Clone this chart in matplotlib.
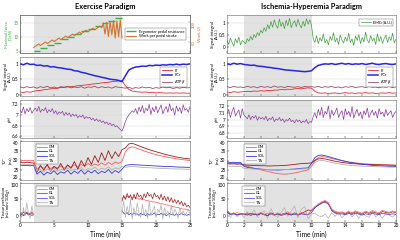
"""Exercise vs ischemia-hyperemia paradigm: multi-panel MR time courses."""
import matplotlib

matplotlib.use("Agg")
import matplotlib.pyplot as plt  # noqa: E402
import numpy as np  # noqa: E402

# --------------------------------------------------------------------------- #
# Data
# --------------------------------------------------------------------------- #
EX_STEP = 0.5        # min between exercise samples
EX_FINE = 0.25       # min, denser exercise traces (pH, work, perfusion)
IH_STEP = 0.4        # min between ischemia samples
IH_FINE = 0.2        # min, denser ischemia traces (EMG, pH)

# exercise: ergometer stages (boundaries, min) and pedal resistance (DaN)
RESIST_T = [2, 3, 4, 5, 6, 7, 8, 9, 10, 11, 12, 13, 14, 15]
RESIST_DAN = [5.0, 6.2, 7.1, 8.0, 9.2, 10.1, 11.0, 12.1, 13.0, 13.9, 15.0,
              15.9, 16.8]
WORK_T0 = 2.0
WORK_J = [36, 39, 42, 45, 41, 44, 47, 50, 46, 49, 52, 55, 51, 54, 57, 60,
          56, 59, 62, 65, 61, 64, 67, 70, 66, 69, 72, 75, 71, 74, 77, 80,
          76, 79, 82, 85, 81, 84, 87, 90, 86, 98, 70, 100, 64, 102, 68, 104,
          60, 103, 63, 106, 60]

# exercise 31P signal integrals (A.U.)
EX_PCR = [1.00, 0.97, 1.02, 0.98, 0.99, 0.95, 0.96, 0.93, 0.94, 0.90,
          0.91, 0.88, 0.87, 0.85, 0.83, 0.82, 0.78, 0.77, 0.73, 0.71,
          0.68, 0.65, 0.62, 0.60, 0.57, 0.55, 0.52, 0.50, 0.49, 0.47,
          0.43, 0.62, 0.80, 0.86, 0.90, 0.91, 0.93, 0.92, 0.95, 0.94,
          0.96, 0.95, 0.97, 0.96, 0.98, 0.97, 0.99, 0.97, 0.99, 0.98, 1.00]
EX_PI = [0.10, 0.08, 0.11, 0.09, 0.12, 0.14, 0.15, 0.17, 0.18, 0.20,
         0.21, 0.22, 0.24, 0.25, 0.26, 0.27, 0.28, 0.30, 0.31, 0.32,
         0.33, 0.35, 0.36, 0.37, 0.39, 0.40, 0.41, 0.43, 0.44, 0.45,
         0.46, 0.30, 0.18, 0.13, 0.11, 0.10, 0.09, 0.10, 0.08, 0.09,
         0.07, 0.08, 0.07, 0.06, 0.07, 0.06, 0.07, 0.06, 0.07, 0.06, 0.06]
EX_ATP = [0.26, 0.23, 0.27, 0.24, 0.26, 0.22, 0.27, 0.24, 0.28, 0.23,
          0.26, 0.22, 0.27, 0.25, 0.28, 0.23, 0.26, 0.24, 0.27, 0.22,
          0.26, 0.25, 0.28, 0.23, 0.27, 0.24, 0.26, 0.22, 0.27, 0.25,
          0.24, 0.22, 0.25, 0.21, 0.24, 0.22, 0.26, 0.23, 0.25, 0.21,
          0.24, 0.22, 0.26, 0.23, 0.25, 0.21, 0.24, 0.22, 0.25, 0.23, 0.24]
EX_PH = [7.10, 7.04, 7.15, 7.02, 7.12, 7.06, 7.14, 7.03, 7.09,
         7.13, 7.07, 7.16, 7.05, 7.11, 7.08, 7.14, 7.04, 7.10, 7.06, 7.12, 7.03,
         7.08, 7.01, 7.06, 7.03, 7.07, 6.99, 7.05, 7.00, 7.04, 6.97,
         7.02, 6.98, 7.01, 6.95, 6.99, 6.96, 7.00, 6.93, 6.97, 6.94,
         6.96, 6.91, 6.94, 6.89, 6.93, 6.88, 6.91, 6.86, 6.89, 6.84,
         6.87, 6.82, 6.85, 6.80, 6.83, 6.78, 6.80, 6.76, 6.73, 6.70,
         6.78, 6.88, 6.95, 7.00, 7.04, 7.08, 7.05, 7.12, 7.02, 7.15,
         7.06, 7.18, 7.03, 7.13, 7.08, 7.20, 7.01, 7.14, 7.06, 7.17,
         7.04, 7.12, 7.19, 7.02, 7.10, 7.16, 7.05, 7.21, 7.08, 7.13,
         7.00, 7.17, 7.07, 7.14, 7.03, 7.19, 7.09, 7.12, 7.05, 7.16]

# exercise T2* (ms)
EX_T2_GM = [30.2, 30.0, 30.1, 29.9, 30.0,
            25.5, 27.0, 26.0, 27.5, 25.8, 26.8, 26.2, 27.2, 26.0, 27.5, 26.5,
            27.8, 26.8, 28.0, 27.0, 28.5, 27.2, 28.2, 27.5, 28.8, 27.6, 29.0,
            28.0, 29.2, 28.5, 29.5,
            34.5, 36.5, 37.0, 36.5, 35.8, 35.2, 34.6, 34.0, 33.5, 33.0,
            32.6, 32.2, 31.8, 31.5, 31.2, 30.9, 30.6, 30.4, 30.2, 30.0]
EX_T2_GL = [29.0, 28.8, 29.1, 28.9, 28.7,
            24.0, 27.5, 25.0, 28.0, 24.5, 27.0, 25.5, 28.5, 25.0, 27.8, 26.0,
            29.5, 25.5, 30.0, 27.0, 31.5, 28.0, 32.5, 29.0, 34.0, 30.0, 35.0,
            31.0, 34.5, 32.0, 35.5,
            36.5, 38.5, 38.8, 38.2, 37.5, 36.8, 36.2, 35.6, 35.0, 34.5,
            34.0, 33.5, 33.0, 32.6, 32.2, 31.8, 31.5, 31.2, 31.0, 30.8]
EX_T2_SOL = [27.6, 27.4, 27.5, 27.3, 27.5,
             23.0, 24.5, 22.5, 24.0, 23.2, 24.8, 22.8, 24.2, 23.5, 25.0, 23.0,
             24.6, 23.4, 25.2, 23.0, 24.8, 23.6, 25.0, 23.2, 24.5, 23.8, 25.4,
             23.4, 24.9, 23.8, 25.5,
             27.5, 27.8, 27.9, 27.8, 27.7, 27.6, 27.5, 27.4, 27.3, 27.2,
             27.1, 27.0, 26.9, 26.9, 26.8, 26.7, 26.6, 26.6, 26.5, 26.5]
EX_T2_TA = [28.0, 28.1, 27.9, 28.0, 28.2,
            24.5, 25.5, 24.0, 25.8, 24.8, 26.0, 24.5, 25.5, 25.0, 26.2, 24.8,
            25.6, 25.2, 26.4, 24.9, 25.8, 25.4, 26.6, 25.0, 26.0, 25.5, 26.8,
            25.2, 26.2, 25.6, 27.0,
            26.5, 26.8, 26.9, 26.8, 26.6, 26.5, 26.4, 26.3, 26.2, 26.1,
            26.0, 25.9, 25.9, 25.8, 25.7, 25.7, 25.6, 25.6, 25.5, 25.5]

# exercise perfusion (mL/min/100g): rest block and recovery block
EX_PERF_POST_T0 = 15.0
EX_PERF_PRE = {
    "GM": [5, 10, 2, 8, 12, 4, 9, 6, 3],
    "GL": [8, 3, 12, 6, 10, 2, 7, 11, 5],
    "SOL": [2, 6, 0, 4, 8, 3, 5, 1, 4],
    "TA": [10, -5, 25, 0, 40, 5, -8, 30, 2],
}
EX_PERF_POST = {
    "GM": [52, 58, 55, 60, 56, 58, 54, 57, 52, 55, 50, 53, 48, 50, 46, 47,
           44, 45, 42, 43, 40, 41, 38, 38, 36, 35, 33, 33, 31, 30, 28, 27,
           25, 25, 23, 22, 20, 21, 19, 18, 17],
    "GL": [45, 62, 50, 68, 55, 64, 48, 66, 52, 70, 58, 63, 50, 67, 55, 72,
           60, 65, 52, 70, 58, 62, 50, 66, 48, 60, 45, 58, 42, 55, 40, 50,
           38, 48, 35, 44, 30, 40, 28, 32, 25],
    "SOL": [15, 8, 5, 10, 3, 7, 2, 9, 4, 6, 1, 8, 3, 5, 0, 7, 2, 6, 4, 9, 1,
            5, 3, 8, 2, 6, 0, 4, 7, 3, 5, 1, 6, 2, 4, 8, 3, 5, 1, 4, 2],
    "TA": [10, 45, -5, 30, 5, 50, -10, 25, 0, 40, 8, -5, 35, 2, 20, -8, 45,
           0, 15, 30, -5, 20, 10, 35, -10, 25, 5, 15, -5, 30, 0, 20, 10, -8,
           25, 5, 15, 0, 10, 20, 5],
}

# ischemia-hyperemia
IH_EMG = [0.30, 0.12, 0.38, 0.20, 0.05, 0.35, 0.18, 0.42, 0.10, 0.28, 0.22,
          0.15, 0.35, 0.25, 0.45, 0.30, 0.52, 0.40, 0.60, 0.48, 0.70,
          0.58, 0.80, 0.65, 0.92, 0.75,
          1.05, 0.82, 1.12, 0.90, 0.78, 1.15, 0.85, 1.02, 0.76, 1.10,
          0.88, 1.18, 0.80, 0.98, 1.08, 0.84, 1.14, 0.92, 0.79, 1.06,
          0.86, 1.16, 0.94, 1.12, 0.90,
          0.35, 0.20, 0.48, 0.15, 0.40, 0.25, 0.55, 0.18, 0.32, 0.10,
          0.45, 0.28, 0.60, 0.22, 0.38, 0.12, 0.50, 0.30, 0.18, 0.42,
          0.25, 0.58, 0.20, 0.35, 0.08, 0.46, 0.28, 0.52, 0.15, 0.40,
          0.22, 0.62, 0.30, 0.18, 0.48, 0.26, 0.38, 0.12, 0.55, 0.24,
          0.44, 0.16, 0.36, 0.50, 0.20, 0.42, 0.28, 0.58, 0.18, 0.34]
IH_PCR = [1.00, 0.98, 1.02, 0.99, 1.01,
          0.98, 0.97, 0.95, 0.96, 0.93, 0.92, 0.91, 0.89, 0.88, 0.86,
          0.85, 0.83, 0.81, 0.80, 0.79, 0.78, 0.77, 0.76, 0.75, 0.76,
          0.78, 0.88, 0.95, 0.98, 1.00,
          0.99, 1.01, 0.98, 1.00, 1.02, 0.99, 1.01, 0.98, 1.00, 0.99,
          1.01, 0.98, 1.00, 1.02, 0.99, 0.98, 1.00, 1.01, 0.99, 0.98, 1.00]
IH_PI = [0.10, 0.08, 0.11, 0.09, 0.10,
         0.11, 0.12, 0.11, 0.13, 0.12, 0.14, 0.13, 0.15, 0.14, 0.16,
         0.16, 0.18, 0.17, 0.19, 0.18, 0.20, 0.21, 0.20, 0.22, 0.23,
         0.22,
         0.12, 0.07, 0.06, 0.07, 0.05, 0.06, 0.07, 0.05, 0.06, 0.08,
         0.06, 0.07, 0.05, 0.07, 0.06, 0.08, 0.06, 0.07, 0.05, 0.06,
         0.07, 0.06, 0.08, 0.06, 0.07]
IH_ATP = [0.27, 0.24, 0.28, 0.25, 0.26, 0.24, 0.28, 0.25, 0.27, 0.23,
          0.28, 0.25, 0.27, 0.24, 0.29, 0.25, 0.27, 0.24, 0.28, 0.26,
          0.25, 0.27, 0.24, 0.28, 0.26, 0.27,
          0.25, 0.28, 0.24, 0.27, 0.25, 0.28, 0.24, 0.26, 0.23, 0.27,
          0.25, 0.28, 0.24, 0.26, 0.27, 0.24, 0.28, 0.25, 0.26, 0.23,
          0.27, 0.25, 0.28, 0.24, 0.26]
IH_PH = [7.08, 7.15, 7.03, 7.12, 7.18, 7.05, 7.10, 7.14, 7.02, 7.16, 7.07,
         7.04, 7.01, 7.07, 7.00, 7.05, 7.02, 7.06, 6.99, 7.04, 7.01,
         7.03, 7.00, 7.05, 6.98, 7.02, 7.00, 7.04, 6.97, 7.01, 6.99,
         7.03, 6.98, 7.01, 6.96, 7.00, 6.98, 7.02, 6.97, 6.99, 6.95,
         7.00, 6.97, 6.99, 6.95, 6.98, 6.96, 7.00, 6.94, 6.97, 6.96,
         7.04, 7.10, 7.02, 7.15, 7.06, 7.18, 7.03, 7.12, 7.08, 7.20,
         7.01, 7.14, 7.06, 7.11, 7.17, 7.03, 7.09, 7.13, 7.00, 7.16,
         7.07, 7.12, 7.04, 7.19, 7.02, 7.10, 7.15, 7.05, 7.11, 7.01,
         7.13, 7.07, 7.17, 7.03, 7.09, 7.14, 7.06, 7.12, 7.02, 7.16,
         7.08, 7.11, 7.04, 7.15, 7.06, 7.10, 7.13, 7.03, 7.09, 7.12]
IH_T2 = {
    "GM": [28.6, 28.5, 28.6, 28.4, 28.5,
           27.5, 27.0, 26.5, 26.0, 25.6, 25.2, 24.8, 24.4, 24.0, 23.6,
           23.3, 23.1, 23.0, 23.1, 23.3, 23.6, 24.0, 24.4, 24.8, 25.2,
           27.0,
           30.0, 31.5, 32.0, 31.8, 31.4, 31.0, 30.6, 30.2, 29.8, 29.5,
           29.2, 29.0, 28.8, 28.6, 28.4, 28.3, 28.2, 28.1, 28.0, 27.9,
           27.8, 27.8, 27.7, 27.7, 27.6],
    "GL": [28.3, 28.2, 28.3, 28.1, 28.2,
           27.8, 27.6, 27.5, 27.4, 27.4, 27.3, 27.3, 27.2, 27.2, 27.3,
           27.3, 27.4, 27.5, 27.6, 27.8, 28.0, 28.2, 28.4, 28.5, 28.6,
           28.8,
           30.0, 30.8, 31.0, 30.8, 30.4, 30.0, 29.6, 29.3, 29.0, 28.8,
           28.6, 28.4, 28.3, 28.2, 28.1, 28.0, 27.9, 27.9, 27.8, 27.8,
           27.7, 27.7, 27.6, 27.6, 27.5],
    "SOL": [29.2, 29.0, 29.1, 28.9, 29.0,
            27.0, 26.5, 26.2, 26.0, 25.8, 25.6, 25.4, 25.3, 25.2, 25.2,
            25.1, 25.2, 25.3, 25.4, 25.5, 25.6, 25.8, 26.0, 26.1, 26.2,
            28.5,
            31.5, 32.6, 32.8, 32.5, 32.0, 31.5, 31.0, 30.5, 30.0, 29.6,
            29.2, 28.9, 28.6, 28.3, 28.1, 27.9, 27.7, 27.5, 27.4, 27.3,
            27.2, 27.1, 27.0, 27.0, 26.9],
    "TA": [27.2, 27.0, 27.1, 26.9, 27.0,
           26.0, 25.8, 25.7, 25.6, 25.6, 25.5, 25.5, 25.4, 25.4, 25.4,
           25.3, 25.3, 25.4, 25.4, 25.5, 25.5, 25.6, 25.6, 25.7, 25.8,
           27.0,
           29.0, 29.8, 30.0, 29.8, 29.4, 29.0, 28.6, 28.3, 28.0, 27.8,
           27.6, 27.4, 27.3, 27.2, 27.1, 27.0, 26.9, 26.9, 26.8, 26.8,
           26.7, 26.7, 26.6, 26.6, 26.5],
}
IH_PERF = {
    "GM": [15, 8, 5, 10, 6,
           4, 9, 2, 7, 5, 10, 3, 8, 6, 2, 9, 4, 7, 12, 5, 8, 3, 10, 6, 4,
           18,
           28, 36, 42, 47, 40, 20, 14, 10, 12, 8, 13, 9, 15, 11, 7, 14, 10,
           16, 12, 9, 17, 13, 11, 15, 12],
    "GL": [10, 5, 8, 3, 7,
           6, 2, 8, 4, 3, 7, 5, 1, 9, 4, 6, 3, 8, 5, 2, 9, 4, 7, 12, 18,
           15,
           25, 32, 38, 42, 35, 18, 10, 8, 9, 6, 10, 7, 12, 8, 5, 11, 7, 12,
           9, 6, 13, 10, 8, 12, 9],
    "SOL": [12, 4, 6, 2, 5,
            3, 6, 1, 5, 2, 7, 3, 0, 6, 2, 5, 1, 4, 7, 3, 5, 2, 6, 4, 3,
            10,
            24, 33, 40, 44, 38, 15, 8, 5, 6, 3, 7, 4, 8, 5, 2, 6, 4, 7, 5,
            3, 8, 5, 4, 6, 4],
    "TA": [20, -5, 10, -3, 8,
           -6, 12, 0, 18, -4, 8, 15, -8, 22, 2, -5, 10, 25, -2, 14, 30, -6,
           20, 28, -10,
           5,
           8, 0, -3, 5, -8, 10, -2, 12, -6, 4, 15, -4, 8, -8, 10, 0, -5, 12,
           -3, 6, -8, 9, 2, -4, 5],
}

EX_T2 = {"GM": EX_T2_GM, "GL": EX_T2_GL, "SOL": EX_T2_SOL, "TA": EX_T2_TA}

MUSCLE_COLORS = {"GM": "#ff5a5a", "GL": "#9e1c1c", "SOL": "#3535e0",
                 "TA": "#b0b0b0"}
C_PCR, C_PI, C_ATP = "#2626e6", "#e82a2a", "#8e2a55"
C_PH, C_EMG = "#8a3a9e", "#3e9e3e"
C_FORCE, C_WORK = "#3cb043", "#d2691e"
SHADE = "#e2e2e2"


def set_style():
    plt.rcParams.update({
        "font.family": ["Lato", "DejaVu Sans"],
        "font.size": 3.5,
        "axes.linewidth": 0.4,
        "axes.edgecolor": "#666666",
        "xtick.major.size": 1.2,
        "ytick.major.size": 1.2,
        "xtick.major.width": 0.3,
        "ytick.major.width": 0.3,
        "xtick.major.pad": 1.0,
        "ytick.major.pad": 1.0,
        "xtick.labelsize": 3.3,
        "ytick.labelsize": 3.3,
        "xtick.direction": "in",
        "ytick.direction": "in",
        "legend.fontsize": 2.8,
        "lines.linewidth": 0.5,
    })


def times(values, step, t0=0.0):
    return t0 + np.arange(len(values)) * step


def panel(fig, rect, xmax, shade_end, xticks, bottom=False):
    ax = fig.add_axes(rect)
    ax.axvspan(2, shade_end, color=SHADE, lw=0, zorder=0)
    ax.set_xlim(0, xmax)
    ax.set_xticks(xticks)
    ax.tick_params(labelbottom=bottom, top=False, right=False)
    ax.grid(axis="y", color="#d0d0d0", lw=0.3)
    ax.set_axisbelow(True)
    return ax


def small_legend(ax, **kw):
    leg = ax.legend(frameon=True, fancybox=False, edgecolor="#333333",
                    handlelength=2.6, borderpad=0.35, labelspacing=0.15,
                    handletextpad=0.6, **kw)
    leg.get_frame().set_linewidth(0.3)
    return leg


def ylab(ax, text, x=-0.045, **kw):
    ax.set_ylabel(text, fontsize=3.2, linespacing=0.95, **kw)
    ax.yaxis.set_label_coords(x, 0.5)


def edge_ticks(ax, low=True, high=True):
    """Keep the end tick labels inside the axes so stacked panels don't clash."""
    labels = ax.get_yticklabels()
    if low:
        labels[0].set_va("bottom")
    if high:
        labels[-1].set_va("top")


set_style()
fig = plt.figure(figsize=(4, 2.4), dpi=100)

COLS = {"ex": (0.05, 0.425), "ih": (0.5675, 0.4225)}
ROWS = [(0.779, 0.158), (0.600, 0.1625), (0.425, 0.158),
        (0.250, 0.1625), (0.075, 0.1625)]
EX_TICKS = [0, 5, 10, 15, 20, 25]
IH_TICKS = list(range(0, 21, 2))

ex_axes, ih_axes = [], []
for i, (b, h) in enumerate(ROWS):
    ex_axes.append(panel(fig, [COLS["ex"][0], b, COLS["ex"][1], h], 25, 15,
                         EX_TICKS, bottom=(i == 4)))
    ih_axes.append(panel(fig, [COLS["ih"][0], b, COLS["ih"][1], h], 20, 10,
                         IH_TICKS, bottom=(i == 4)))

# ---- row 1: exercise load / EMG ----
ax = ex_axes[0]
ax.hlines(RESIST_DAN, RESIST_T[:-1], RESIST_T[1:], color=C_FORCE, lw=1.0,
          label="Ergometer pedal resistance", zorder=3)
ax.set_ylim(4.2, 18)
ax.set_yticks([5, 10, 15])
ax.tick_params(axis="y", colors=C_FORCE, labelcolor=C_FORCE)
ylab(ax, "Maximal force\n(DaN)", color=C_FORCE)
ax2 = ax.twinx()
ax2.plot(times(WORK_J, EX_FINE, WORK_T0), WORK_J, color=C_WORK, lw=0.8,
         alpha=0.9, label="Work per pedal stroke")
ax2.set_ylim(22, 118)
ax2.set_yticks([50, 100])
ax2.tick_params(axis="y", colors=C_WORK, labelcolor=C_WORK, labelsize=3.0,
                labelrotation=90, direction="in", length=1.2, width=0.3,
                pad=1.0)
ax2.set_ylabel("Work (J)", color=C_WORK, fontsize=3.2, labelpad=1.5)
h1, l1 = ax.get_legend_handles_labels()
h2, l2 = ax2.get_legend_handles_labels()
small_legend(ax2, handles=h1 + h2, labels=l1 + l2, loc="center right",
             bbox_to_anchor=(0.985, 0.5))

ax = ih_axes[0]
ax.plot(times(IH_EMG, IH_FINE), IH_EMG, color=C_EMG, lw=0.5,
        label="EMG (A.U.)")
ax.set_ylim(-0.23, 1.31)
ax.set_yticks([0, 0.5, 1])
ax.set_yticklabels(["0", "0.5", "1"])
ylab(ax, "Signal integral\n(A.U.)", x=-0.05)
small_legend(ax, loc="upper right", bbox_to_anchor=(0.995, 0.95))

# ---- row 2: 31P signal integrals ----
for ax, pi, pcr, atp, step in ((ex_axes[1], EX_PI, EX_PCR, EX_ATP, EX_STEP),
                               (ih_axes[1], IH_PI, IH_PCR, IH_ATP, IH_STEP)):
    ax.plot(times(pi, step), pi, color=C_PI, lw=0.6, label="Pi")
    ax.plot(times(pcr, step), pcr, color=C_PCR, lw=1.1, label="PCr")
    ax.plot(times(atp, step), atp, color=C_ATP, lw=0.6, alpha=0.85,
            label=r"ATP$\beta$")
    ax.set_ylim(-0.03, 1.22)
    ax.set_yticks([0, 0.5, 1])
    ax.set_yticklabels(["0", "0.5", "1"])
    ylab(ax, "Signal integral\n(A.U.)", x=-0.05)
    small_legend(ax, loc="center right", bbox_to_anchor=(0.995, 0.48))

# ---- row 3: pH ----
ax = ex_axes[2]
ax.plot(times(EX_PH, EX_FINE), EX_PH, color=C_PH, lw=0.5)
ax.set_ylim(6.57, 7.28)
ax.set_yticks([6.6, 6.8, 7.0, 7.2])
ax.set_yticklabels(["6.6", "6.8", "7", "7.2"])
ylab(ax, "pH", x=-0.05)
ax = ih_axes[2]
ax.plot(times(IH_PH, IH_FINE), IH_PH, color=C_PH, lw=0.5)
ax.set_ylim(6.73, 7.285)
ax.set_yticks([6.8, 6.9, 7.0, 7.1, 7.2])
ax.set_yticklabels(["6.8", "6.9", "7", "7.1", "7.2"])
ylab(ax, "pH", x=-0.05)

# ---- row 4: T2* ----
for ax, data, step in ((ex_axes[3], EX_T2, EX_STEP),
                       (ih_axes[3], IH_T2, IH_STEP)):
    for m in ("GM", "GL", "SOL", "TA"):
        ax.plot(times(data[m], step), data[m], color=MUSCLE_COLORS[m],
                lw=0.6, label=m)
    ax.set_ylim(20, 40)
    ax.set_yticks([20, 25, 30, 35, 40])
    ax.grid(False)
    edge_ticks(ax)
    ylab(ax, "T$_2$*\n(ms)", x=-0.045)
small_legend(ex_axes[3], loc="upper left", bbox_to_anchor=(0.08, 0.985))
small_legend(ih_axes[3], loc="upper left", bbox_to_anchor=(0.09, 0.985))

# ---- row 5: perfusion ----
ax = ex_axes[4]
for m in ("GM", "GL", "SOL", "TA"):
    pre, post = EX_PERF_PRE[m], EX_PERF_POST[m]
    ax.plot(times(pre, EX_FINE), pre, color=MUSCLE_COLORS[m], lw=0.5,
            label=m)
    ax.plot(times(post, EX_FINE, EX_PERF_POST_T0), post,
            color=MUSCLE_COLORS[m], lw=0.5)
ax = ih_axes[4]
for m in ("TA", "GL", "SOL", "GM"):
    ax.plot(times(IH_PERF[m], IH_STEP), IH_PERF[m], color=MUSCLE_COLORS[m],
            lw=0.5, label=m)
for ax in (ex_axes[4], ih_axes[4]):
    ax.set_ylim(-19, 100)
    ax.set_yticks([0, 50, 100])
    ax.grid(False)
    edge_ticks(ax, low=False)
    ylab(ax, "Tissue perfusion\n(mL/min/100g)", x=-0.062)
    h, l = ax.get_legend_handles_labels()
    order = [l.index(k) for k in ("GM", "GL", "SOL", "TA")]
    small_legend(ax, handles=[h[k] for k in order],
                 labels=[l[k] for k in order], loc="upper left",
                 bbox_to_anchor=(0.08, 0.985))
    ax.set_xlabel("Time (min)", fontsize=4.8, labelpad=1.5)

# ---- titles ----
fig.text(0.05 + 0.425 / 2, 0.975, "Exercise Paradigm", ha="center",
         va="center", fontsize=5.3, fontweight="bold")
fig.text(0.5675 + 0.4225 / 2, 0.975, "Ischemia-Hyperemia Paradigm",
         ha="center", va="center", fontsize=5.3, fontweight="bold")

fig.savefig("out.png", dpi=100)
plt.close(fig)
